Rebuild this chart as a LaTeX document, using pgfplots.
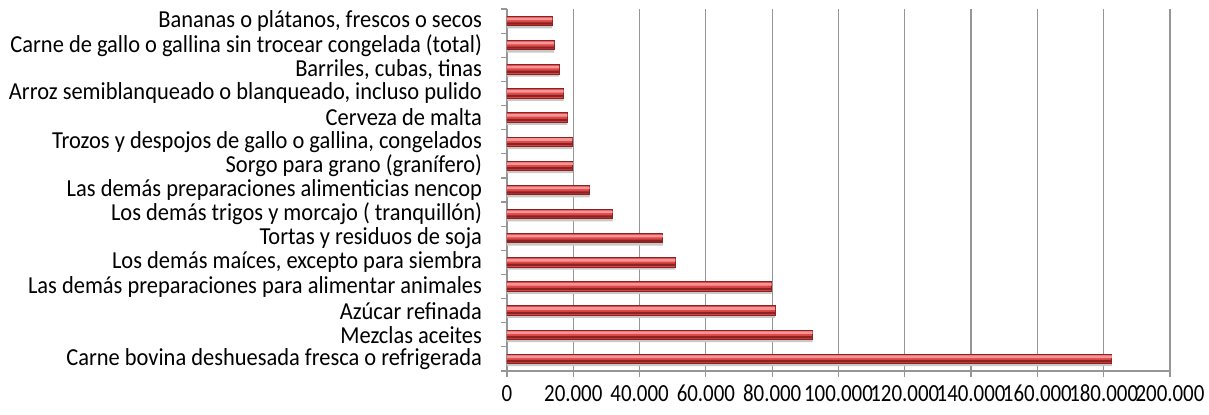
\documentclass[border=0pt]{standalone}
\usepackage{pgfplots}
\usepackage{pgfplotstable}
\pgfplotsset{compat=1.18}
\usepackage{fontspec}
\setmainfont{Carlito}
\newfontfamily\labfont{Carlito}[FakeStretch=0.92]
\newfontfamily\tickfont{Carlito}[FakeStretch=0.85]
\definecolor{gridgray}{RGB}{150,150,150}
\definecolor{barlight}{RGB}{245,150,150}
\definecolor{barmid}{RGB}{222,72,72}
\definecolor{bardark}{RGB}{140,35,35}
\definecolor{shadow}{RGB}{200,200,200}
\pgfplotstableread{
value pos
182500 0
92200 1
80900 2
79800 3
50800 4
47000 5
31900 6
24900 7
19900 8
19700 9
18200 10
17100 11
15700 12
14200 13
13700 14
}\datatab
\begin{document}
\begin{tikzpicture}
\useasboundingbox (-253.5pt,-21.5pt) rectangle (351pt,185.5pt);
\begin{axis}[
  scale only axis,
  width=331.5pt, height=181pt,
  xmin=0, xmax=200000,
  ymin=-0.5, ymax=14.5,
  axis x line*=bottom,
  axis y line*=left,
  axis line style={gridgray, line width=0.8pt},
  xtick={0,20000,...,200000},
  xticklabels={0,20.000,40.000,60.000,80.000,100.000,120.000,140.000,160.000,180.000,200.000},
  xticklabel style={font=\tickfont\fontsize{12.3}{14}\selectfont, anchor=base, yshift=-12.3pt, inner sep=0pt},
  xmajorgrids,
  grid style={gridgray, line width=0.6pt},
  tick align=outside,
  major tick length=3pt,
  minor tick length=3pt,
  tick style={gridgray, line width=0.6pt},
  ytick={0,...,14},
  ytick style={draw=none},
  minor ytick={-0.5,0.5,...,14.5},
  minor y tick style={draw=gridgray},
  yticklabels={
    Carne bovina deshuesada fresca o refrigerada,
    Mezclas aceites,
    Azúcar refinada\ ,
    Las demás preparaciones para alimentar animales,
    {Los demás maíces, excepto para siembra},
    Tortas y residuos de soja\ ,
    Los demás trigos y morcajo ( tranquillón),
    Las demás preparaciones alimenticias nencop,
    Sorgo para grano (granífero),
    {Trozos y despojos de gallo o gallina, congelados},
    Cerveza de malta,
    {Arroz semiblanqueado o blanqueado, incluso pulido},
    {Barriles, cubas, tinas\ },
    Carne de gallo o gallina sin trocear congelada (total),
    {Bananas o plátanos, frescos o secos}
  },
  yticklabel style={font=\labfont\fontsize{12.2}{14}\selectfont, xshift=-6pt},
]
\addplot[xbar, bar width=4.7pt, bar shift=-1.3pt, fill=shadow, draw=none] table[x=value, y=pos] {\datatab};
\addplot[xbar, bar width=4.7pt, bar shift=0pt, fill=barmid, draw=bardark, line width=0.5pt] table[x=value, y=pos] {\datatab};
\addplot[xbar, bar width=1.3pt, bar shift=1.1pt, fill=barlight, draw=none] table[x=value, y=pos] {\datatab};
\addplot[xbar, bar width=1.1pt, bar shift=-1.2pt, fill=bardark, draw=none] table[x=value, y=pos] {\datatab};
\end{axis}
\end{tikzpicture}
\end{document}
